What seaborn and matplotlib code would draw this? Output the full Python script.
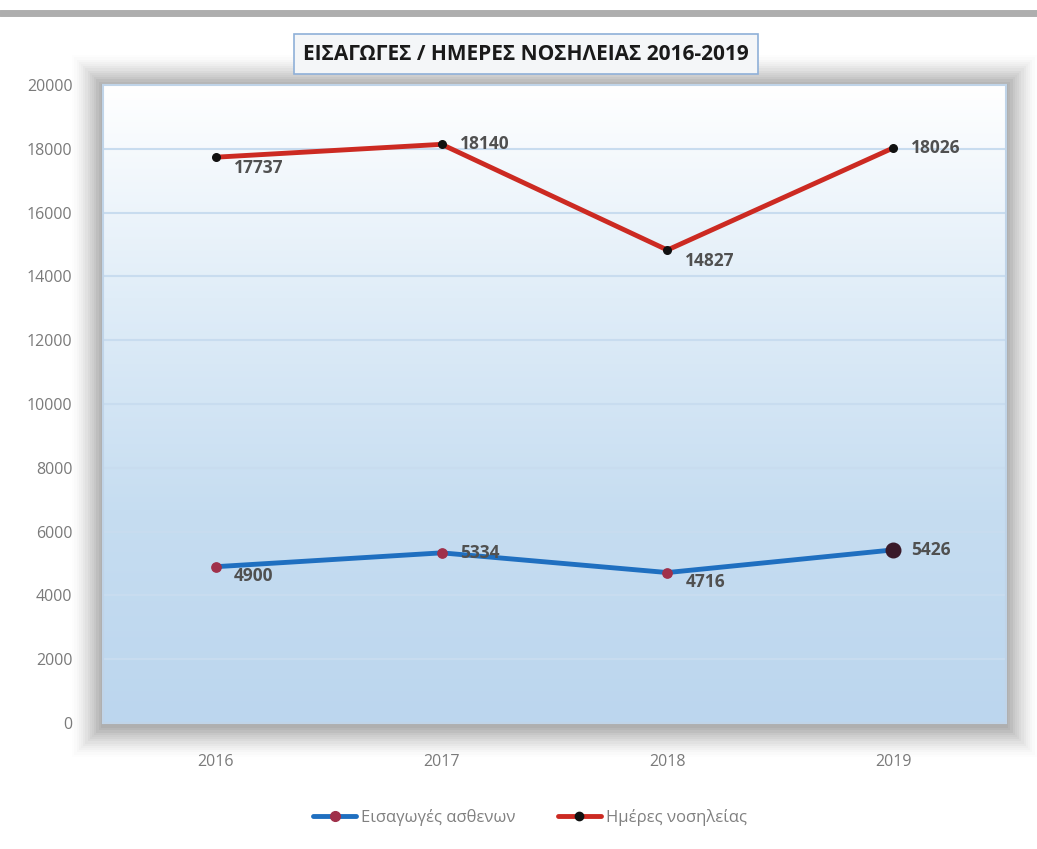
import numpy as np
import pandas as pd
import matplotlib
matplotlib.use("Agg")
import matplotlib.pyplot as plt
import seaborn as sns
from matplotlib.colors import LinearSegmentedColormap
from matplotlib.patches import Rectangle
from matplotlib.lines import Line2D

years = ["2016", "2017", "2018", "2019"]
admissions = [4900, 5334, 4716, 5426]
hospital_days = [17737, 18140, 14827, 18026]
series_names = ["Εισαγωγές ασθενων", "Ημέρες νοσηλείας"]
title = "ΕΙΣΑΓΩΓΕΣ / ΗΜΕΡΕΣ ΝΟΣΗΛΕΙΑΣ 2016-2019"
yticks = [0, 2000, 4000, 6000, 8000, 10000, 12000, 14000, 16000, 18000, 20000]

df = pd.DataFrame({
    "year": years * 2,
    "value": admissions + hospital_days,
    "series": [series_names[0]] * 4 + [series_names[1]] * 4,
})

sns.set_theme(style="white")
plt.rcParams["font.family"] = ["Open Sans", "DejaVu Sans"]

fig = plt.figure(figsize=(10.37, 8.49), dpi=100)
W, H = 1037, 849
ax = fig.add_axes([103 / W, 1 - 723 / H, (1006 - 103) / W, (723 - 85) / H])
ax.set_zorder(2)

# soft shadow behind the plot area
for i, a in enumerate(np.linspace(0.055, 0.008, 14)):
    pad = (i + 1) * 2.2
    fig.patches.append(Rectangle(((103 - pad) / W, 1 - (723 + pad + 3) / H),
                                 (903 + 2 * pad) / W, (638 + 2 * pad + 2) / H,
                                 transform=fig.transFigure, facecolor="#303030",
                                 alpha=a, edgecolor="none", zorder=-5))

# top gray bar
fig.add_artist(Line2D([0, 1], [1 - 13 / H, 1 - 13 / H], color="#9a9a9a", lw=5, alpha=0.8))

cmap = LinearSegmentedColormap.from_list("bg", ["#ffffff", "#e0edf8", "#c6ddf1", "#bcd6ee"])
grad = np.linspace(0, 1, 256).reshape(-1, 1)
ax.imshow(grad, aspect="auto", cmap=cmap, extent=[-0.5, 3.5, 0, 20000],
          origin="upper", zorder=0)

sns.lineplot(data=df, x="year", y="value", hue="series", sort=False,
             palette=["#1f6fc0", "#cc2a22"], linewidth=3.5, ax=ax, legend=False, zorder=3)

ax.scatter(range(4), admissions, s=45, color="#a0304a", zorder=4)
ax.scatter([3], [admissions[3]], s=110, color="#3a1a2a", zorder=5)
ax.scatter(range(4), hospital_days, s=30, color="#111111", zorder=4)

for i, v in enumerate(admissions):
    dy = -300 if i in (0, 2) else 0
    ax.text(i + 0.08, v + dy, str(v), fontsize=12.5, fontweight="bold",
            color="#505050", va="center", ha="left", zorder=6)
for i, v in enumerate(hospital_days):
    dy = -350 if i in (0, 2) else 0
    ax.text(i + 0.08, v + dy, str(v), fontsize=12.5, fontweight="bold",
            color="#505050", va="center", ha="left", zorder=6)

ax.set_xlim(-0.5, 3.5)
ax.set_ylim(0, 20000)
ax.set_yticks(yticks)
ax.set_yticklabels([str(t) for t in yticks])
for t in yticks[1:-1]:
    ax.axhline(t, color="#c8dcef", lw=1.5, zorder=1)
ax.set_xlabel("")
ax.set_ylabel("")
ax.tick_params(axis="both", colors="#7a7a7a", labelsize=11.5, length=0)
ax.tick_params(axis="x", pad=22)
ax.tick_params(axis="y", pad=22)
for s in ax.spines.values():
    s.set_visible(True)
    s.set_color("#c0d4e8")
    s.set_linewidth(1.5)

# title with box
fig.text(526 / W, 1 - 54 / H, title, ha="center", va="center", fontsize=15,
         fontweight="bold", color="#1a1a1a", family=["Open Sans", "DejaVu Sans"],
         bbox=dict(boxstyle="square,pad=0.45", facecolor="#f4f6f8",
                   edgecolor="#8fb0d8", linewidth=1.2), zorder=10)

handles = [
    Line2D([0], [0], color="#1f6fc0", lw=3.5, marker="o", markersize=7,
           markerfacecolor="#a0304a", markeredgecolor="#a0304a"),
    Line2D([0], [0], color="#cc2a22", lw=3.5, marker="o", markersize=6,
           markerfacecolor="#111111", markeredgecolor="#111111"),
]
leg = fig.legend(handles, series_names, loc="center", bbox_to_anchor=(530 / W, 1 - 817 / H),
                 ncol=2, frameon=False, fontsize=12, handlelength=2.6,
                 columnspacing=2.5, handletextpad=0.3)
for t in leg.get_texts():
    t.set_color("#808080")

fig.savefig("out.png", dpi=100)
